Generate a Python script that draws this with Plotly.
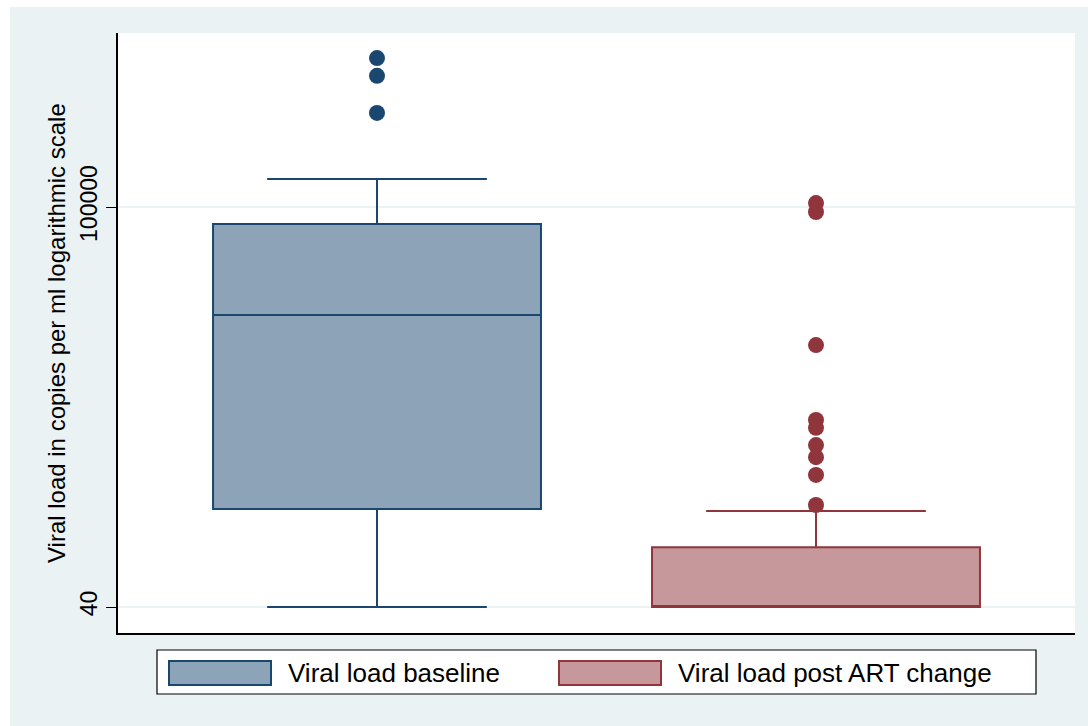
import plotly.graph_objects as go
import math

# ---- data ----
groups = ["Viral load baseline", "Viral load post ART change"]
positions = [0, 1]
q1 = [272, 40]
median = [12100, 40]
q3 = [71700, 129]
lower_whisker = [40, 40]
upper_whisker = [173000, 262]
outliers_baseline = [1840000, 1300000, 630000]
outliers_post = [108000, 90700, 6720, 1550, 1330, 950, 750, 530, 294]
tick_vals = [40, 100000]
tick_text = ["40", "100000"]

fills = ["#8DA3B8", "#C6989B"]
lines = ["#1A476F", "#90353B"]
BG = "#EAF2F3"
FONT = "Liberation Sans, Arial, sans-serif"

fig = go.Figure()
for i in range(2):
    fig.add_trace(go.Box(
        x=[positions[i]], q1=[q1[i]], median=[median[i]], q3=[q3[i]],
        lowerfence=[lower_whisker[i]], upperfence=[upper_whisker[i]],
        name=groups[i], fillcolor=fills[i],
        line=dict(color=lines[i], width=2), width=0.747, whiskerwidth=0.67,
        boxpoints=False, showlegend=False, hoverinfo="skip",
    ))

for pos, vals, col in [(positions[0], outliers_baseline, lines[0]),
                       (positions[1], outliers_post, lines[1])]:
    fig.add_trace(go.Scatter(
        x=[pos] * len(vals), y=vals, mode="markers",
        marker=dict(color=col, size=16, line=dict(width=0)),
        showlegend=False, hoverinfo="skip",
    ))

# pixel -> paper helpers for decorations
L, R, T, B = 118, 13, 33, 93
PW, PH = 1088 - L - R, 726 - T - B
def px(x): return (x - L) / PW
def py(y): return (726 - B - y) / PH

shapes = [
    # white strips at page edge
    dict(type="rect", xref="paper", yref="paper", x0=px(-5), x1=px(10), y0=py(740), y1=py(-10),
         fillcolor="white", line=dict(width=0), layer="below"),
    dict(type="rect", xref="paper", yref="paper", x0=px(-5), x1=px(1100), y0=py(7), y1=py(-10),
         fillcolor="white", line=dict(width=0), layer="below"),
    # legend box
    dict(type="rect", xref="paper", yref="paper", x0=px(157), x1=px(1036), y0=py(694), y1=py(650),
         fillcolor="white", line=dict(color="black", width=1.2)),
    dict(type="rect", xref="paper", yref="paper", x0=px(169), x1=px(271), y0=py(685), y1=py(661),
         fillcolor=fills[0], line=dict(color=lines[0], width=2)),
    dict(type="rect", xref="paper", yref="paper", x0=px(559), x1=px(661), y0=py(685), y1=py(661),
         fillcolor=fills[1], line=dict(color=lines[1], width=2)),
]

annotations = [
    dict(text="Viral load in copies per ml logarithmic scale", xref="paper", yref="paper",
         x=px(56), y=0.5, textangle=-90, showarrow=False, xanchor="center", yanchor="middle",
         font=dict(family=FONT, size=24, color="black")),
    dict(text=groups[0], xref="paper", yref="paper", x=px(286), y=py(673), showarrow=False,
         xanchor="left", yanchor="middle", font=dict(family=FONT, size=26, color="black")),
    dict(text=groups[1], xref="paper", yref="paper", x=px(676), y=py(673), showarrow=False,
         xanchor="left", yanchor="middle", font=dict(family=FONT, size=26, color="black")),
]

ymin = math.log10(40) - 26 / 117.72
ymax = 5 + 174 / 117.72

fig.update_layout(
    width=1088, height=726,
    margin=dict(l=L, r=R, t=T, b=B),
    paper_bgcolor=BG, plot_bgcolor="white",
    boxmode="overlay",
    shapes=shapes, annotations=annotations,
    font=dict(family=FONT, color="black"),
    xaxis=dict(range=[-0.59, 1.59], showgrid=False, zeroline=False, showticklabels=False,
               ticks="", showline=True, linecolor="black", linewidth=1.5),
    yaxis=dict(type="log", range=[ymin, ymax], tickvals=tick_vals, ticktext=tick_text,
               tickangle=-90, ticks="outside", ticklen=10, tickcolor="black", tickwidth=1.2,
               tickfont=dict(family=FONT, size=23, color="black"),
               showgrid=True, gridcolor=BG, gridwidth=1.5, zeroline=False,
               showline=True, linecolor="black", linewidth=1.5),
)

fig.write_html("out.html")
